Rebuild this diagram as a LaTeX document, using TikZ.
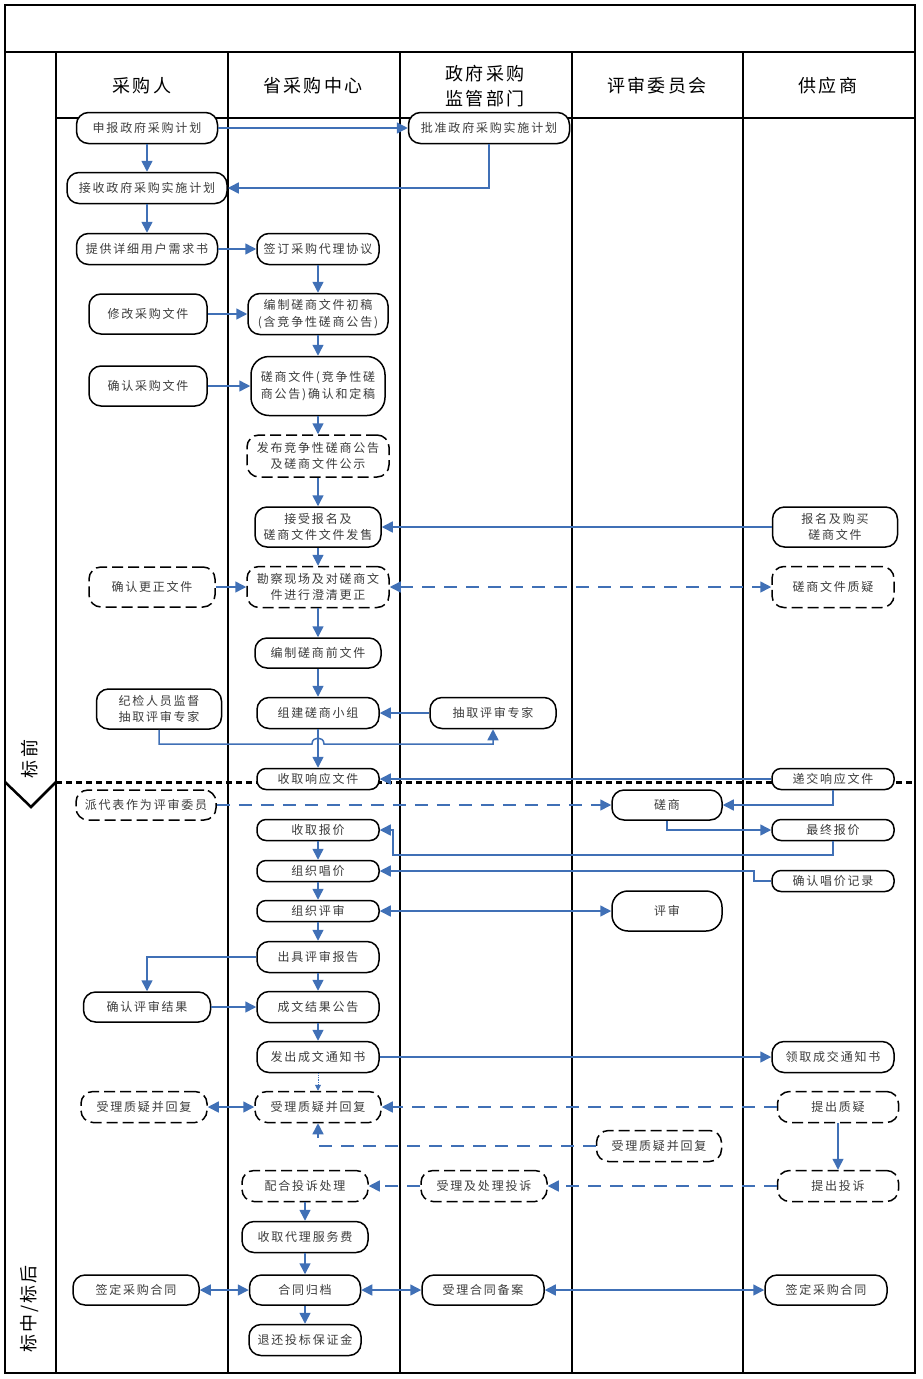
\documentclass[tikz,border=0pt]{standalone}
\usepackage{fontspec}
\newfontfamily\cjkfont{Noto Sans CJK SC}[LetterSpace=15]
\newfontfamily\cjkhead{Noto Sans CJK SC}[LetterSpace=12]
\usetikzlibrary{arrows.meta, positioning}
\definecolor{flowblue}{RGB}{64,112,182}
\definecolor{txtgray}{RGB}{60,60,60}
\newcommand{\actfont}{\cjkfont\fontsize{12}{16.5}\selectfont}
\newcommand{\lanefont}{\cjkhead\fontsize{18}{25}\selectfont}

\begin{document}
\begin{tikzpicture}[
    x=1pt, y=-1pt,
    act/.style={draw, line width=1.5pt, rounded corners=12pt, fill=white, align=center,
        inner sep=1pt, text=txtgray, font=\actfont, minimum width=#1pt, minimum height=31pt},
    act/.default=122,
    actd/.style={act=#1, dash pattern=on 11pt off 5pt},
    actd/.default=126,
    low/.style={minimum height=21pt, rounded corners=9pt},
    tall/.style={minimum height=41pt},
    flow/.style={draw=flowblue, line width=1.5pt, -{Triangle[length=11pt,width=11pt]}},
    flowd/.style={flow, dash pattern=on 13pt off 9pt},
    twoway/.style={{Triangle[length=11pt,width=11pt]}-{Triangle[length=11pt,width=11pt]}},
    lane/.style={line width=1.6pt}
]
\useasboundingbox (0,0) rectangle (922,1379);

% frame and lanes
\draw[lane] (5,5) rectangle (915,1373);
\draw[lane] (5,52) -- (915,52);
\draw[lane] (56,118) -- (915,118);
\foreach \x in {56,228,400,572,743}
    \draw[lane] (\x,52) -- (\x,1373);

\node[font=\lanefont] (h1) at (142,86) {采购人};
\node[font=\lanefont] (h2) at (313,86) {省采购中心};
\node[font=\lanefont, align=center] (h3) at (485,86) {政府采购\\监管部门};
\node[font=\lanefont] (h4) at (657,86) {评审委员会};
\node[font=\lanefont] (h5) at (828,86) {供应商};

% phases
\draw[line width=3pt, dash pattern=on 6pt off 4pt] (56,782) -- (915,782);
\draw[line width=2.5pt] (5,782) -- (31,807) -- (56,782);
\node[font=\lanefont, rotate=90] (ph1) at (30,759) {标前};
\node[font=\lanefont, rotate=90] (ph2) at (30,1309) {标中/标后};

% 采购人
\node[act=141] (a1) at (147,128) {申报政府采购计划};
\node[act=160] (a2) at (147,188) {接收政府采购实施计划};
\node[act=141] (a3) at (147,249) {提供详细用户需求书};
\node[act=118, minimum height=40pt] (a4) at (148,314) {修改采购文件};
\node[act=118, minimum height=40pt] (a5) at (148,386) {确认采购文件};
\node[actd, minimum height=40pt] (a6) at (152,587) {确认更正文件};
\node[act=125, minimum height=40pt] (a7) at (159,709) {纪检人员监督\\抽取评审专家};
\node[actd=140, minimum height=30pt] (a8) at (146,805) {派代表作为评审委员};
\node[act=127, minimum height=30pt] (a9) at (147,1007) {确认评审结果};
\node[actd] (a10) at (144,1107) {受理质疑并回复};
\node[act=126, minimum height=30pt] (a11) at (136,1290) {签定采购合同};

% 省采购中心
\node[act] (b1) at (318,249) {签订采购代理协议};
\node[act=140, tall] (b2) at (318,314) {编制磋商文件初稿\\(含竞争性磋商公告)};
\node[act=134, minimum height=59pt, rounded corners=18pt] (b3) at (318,386) {磋商文件(竞争性磋\\商公告)确认和定稿};
\node[actd=142, minimum height=42pt] (b4) at (318,456) {发布竞争性磋商公告\\及磋商文件公示};
\node[act=126, minimum height=40pt] (b5) at (318,527) {接受报名及\\磋商文件文件发售};
\node[actd=142, tall] (b6) at (318,587) {勘察现场及对磋商文\\件进行澄清更正};
\node[act=126, minimum height=30pt] (b7) at (318,653) {编制磋商前文件};
\node[act] (b8) at (318,713) {组建磋商小组};
\node[act, low] (b9) at (318,779) {收取响应文件};
\node[act, low] (b10) at (318,830) {收取报价};
\node[act, low] (b11) at (318,871) {组织唱价};
\node[act, low] (b12) at (318,911) {组织评审};
\node[act] (b13) at (318,957) {出具评审报告};
\node[act] (b14) at (318,1007) {成文结果公告};
\node[act] (b15) at (318,1057) {发出成文通知书};
\node[actd] (b16) at (318,1107) {受理质疑并回复};
\node[actd] (b17) at (305,1186) {配合投诉处理};
\node[act=126] (b18) at (305,1237) {收取代理服务费};
\node[act=111, minimum height=30pt] (b19) at (305,1290) {合同归档};
\node[act=112] (b20) at (305,1340) {退还投标保证金};

% 政府采购监管部门
\node[act=161] (c1) at (489,128) {批准政府采购实施计划};
\node[act=126] (c2) at (493,713) {抽取评审专家};
\node[actd] (c3) at (484,1186) {受理及处理投诉};
\node[act, minimum height=30pt] (c4) at (483,1290) {受理合同备案};

% 评审委员会
\node[act=110, minimum height=30pt] (d1) at (667,805) {磋商};
\node[act=110, minimum height=40pt, rounded corners=16pt] (d2) at (667,911) {评审};
\node[actd=125] (d3) at (659,1146) {受理质疑并回复};

% 供应商
\node[act=125, minimum height=40pt] (e1) at (835,527) {报名及购买\\磋商文件};
\node[actd=122, tall] (e2) at (833,587) {磋商文件质疑};
\node[act, low] (e3) at (833,779) {递交响应文件};
\node[act, low] (e4) at (833,830) {最终报价};
\node[act, low] (e5) at (833,881) {确认唱价记录};
\node[act] (e6) at (833,1057) {领取成交通知书};
\node[actd=121] (e7) at (838,1107) {提出质疑};
\node[actd=121] (e8) at (838,1186) {提出投诉};
\node[act, minimum height=30pt] (e9) at (826,1290) {签定采购合同};

% connectors
\draw[flow] (a1) -- (c1);
\draw[flow] (a1) -- (a2);
\draw[flow] (c1.south) |- (a2.east);
\draw[flow] (a2) -- (a3);
\draw[flow] (a3) -- (b1);
\draw[flow] (b1) -- (b2);
\draw[flow] (a4) -- (b2);
\draw[flow] (b2) -- (b3);
\draw[flow] (a5) -- (b3);
\draw[flow] (b3) -- (b4);
\draw[flow] (b4) -- (b5);
\draw[flow] (e1) -- (b5);
\draw[flow] (b5) -- (b6);
\draw[flow] (a6) -- (b6);
\draw[flowd, twoway] (b6) -- (e2);
\draw[flow] (b6) -- (b7);
\draw[flow] (b7) -- (b8);
\draw[flow] (c2) -- (b8);
\draw[flow] (a7.south) |- (312,744) .. controls (312,736) and (324,736) .. (324,744) -| (c2.south);
\draw[flow] (b8) -- (b9);
\draw[flow] (e3) -- (b9);
\draw[flowd] (a8) -- (d1);
\draw[flow] (e3.south) |- (d1.east);
\draw[flow] (d1.south) |- (e4.west);
\draw[flow] (e4.south) |- (393,855) |- (b10.east);
\draw[flow] (b10) -- (b11);
\draw[flow] (e5.west) -- (754,881) |- (b11.east);
\draw[flow] (b11) -- (b12);
\draw[flow, twoway] (b12) -- (d2);
\draw[flow] (b12) -- (b13);
\draw[flow] (b13.west) -| (a9.north);
\draw[flow] (b13) -- (b14);
\draw[flow] (a9) -- (b14);
\draw[flow] (b14) -- (b15);
\draw[flow] (b15) -- (e6);
\draw[flow, line width=0.8pt, densely dotted, -{Triangle[length=6pt,width=6pt]}] (b15) -- (b16);
\draw[flow, twoway] (a10) -- (b16);
\draw[flowd] (e7) -- (b16);
\draw[flow] (e7) -- (e8);
\draw[flowd] (d3.west) -| (b16.south);
\draw[flowd] (e8) -- (c3);
\draw[flowd] (c3) -- (b17);
\draw[flow] (b17) -- (b18);
\draw[flow] (b18) -- (b19);
\draw[flow] (b19) -- (b20);
\draw[flow, twoway] (b19) -- (a11);
\draw[flow, twoway] (b19) -- (c4);
\draw[flow, twoway] (c4) -- (e9);
\end{tikzpicture}
\end{document}
